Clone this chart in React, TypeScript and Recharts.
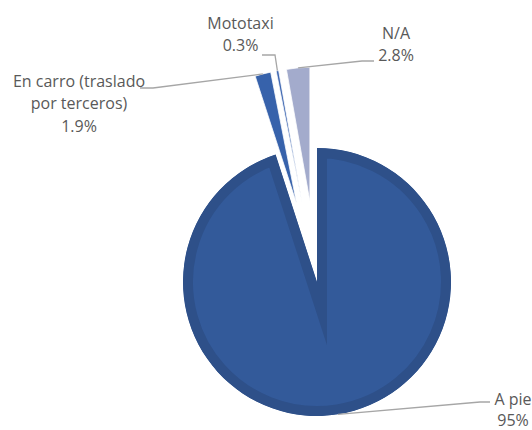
import { PieChart, Pie, Sector, Cell } from "recharts";

// values (share of trips, %)
const categories = ["A pie", "En carro (traslado por terceros)", "Mototaxi", "N/A"];
const shares = [95, 1.9, 0.3, 2.8];

const data = categories.map((name, i) => ({ name, value: shares[i] }));

const fills = ["#335A9A", "#3762AB", "#4169B2", "#A3ABCC"];
const BORDER = "#2E5089";
const EXPLODE = 81;
const RAD = Math.PI / 180;
const FONT = "'Open Sans', sans-serif";
const TEXT = "#595959";

// label placement: text lines, text centre, first baseline, line gap, leader elbow + end
const labelLayout: Record<string, any> = {
  "A pie": { lines: ["A pie"], x: 513, y: 405, gap: 21, elbow: [480, 402], end: [490, 402] },
  "En carro (traslado por terceros)": {
    lines: ["En carro (traslado", "por terceros)"],
    x: 79,
    y: 86.5,
    gap: 22.5,
    elbow: [153, 88],
    end: [140, 88],
  },
  Mototaxi: { lines: ["Mototaxi"], x: 240.5, y: 28.5, gap: 22.5, elbow: [275, 55], end: [262, 55] },
  "N/A": { lines: ["N/A"], x: 396, y: 38.5, gap: 22.5, elbow: [362, 61], end: [374, 61] },
};

const offsetOf = (name: string) => (name === "A pie" ? 0 : EXPLODE);

function Slice(props: any) {
  const { cx, cy, outerRadius, startAngle, endAngle, fill, name } = props;
  const mid = (startAngle + endAngle) / 2;
  const off = offsetOf(name);
  const dx = off * Math.cos(-mid * RAD);
  const dy = off * Math.sin(-mid * RAD);
  const base = { cx, cy, innerRadius: 0, outerRadius, startAngle, endAngle };

  if (name === "A pie") {
    // inner border: stroke twice the width, clipped to the slice itself
    return (
      <g>
        <defs>
          <clipPath id="clip-apie">
            <Sector {...base} />
          </clipPath>
        </defs>
        <g clipPath="url(#clip-apie)">
          <Sector
            {...base}
            fill={fill}
            stroke={BORDER}
            strokeWidth={20}
            strokeLinejoin="miter"
            strokeMiterlimit={12}
          />
        </g>
      </g>
    );
  }
  return (
    <g transform={`translate(${dx},${dy})`}>
      <Sector {...base} fill={fill} stroke="#fff" strokeWidth={0.75} />
    </g>
  );
}

function renderLabel(props: any) {
  const { cx, cy, outerRadius, midAngle, name, value } = props;
  const spot = labelLayout[name];
  if (!spot) return null;
  const r = outerRadius + offsetOf(name);
  const sx = cx + r * Math.cos(-midAngle * RAD);
  const sy = cy + r * Math.sin(-midAngle * RAD);
  const lines = [...spot.lines, `${value}%`];
  return (
    <g>
      <polyline
        points={`${sx},${sy} ${spot.elbow[0]},${spot.elbow[1]} ${spot.end[0]},${spot.end[1]}`}
        fill="none"
        stroke="#a6a6a6"
        strokeWidth={1.3}
      />
      {lines.map((t, i) => (
        <text
          key={i}
          x={spot.x}
          y={spot.y + i * spot.gap}
          textAnchor="middle"
          fontFamily={FONT}
          fontSize={16}
          fill={TEXT}
        >
          {t}
        </text>
      ))}
    </g>
  );
}

export default function App() {
  return (
    <div style={{ position: "absolute", left: 0, top: 0, background: "#fff" }}>
      <PieChart width={532} height={430} margin={{ top: 0, right: 0, bottom: 0, left: 0 }}>
        <Pie
          data={data}
          dataKey="value"
          nameKey="name"
          cx={317}
          cy={282}
          outerRadius={134}
          startAngle={90}
          endAngle={-270}
          shape={Slice}
          label={renderLabel}
          labelLine={false}
          isAnimationActive={false}
        >
          {data.map((d, i) => (
            <Cell key={d.name} fill={fills[i]} />
          ))}
        </Pie>
      </PieChart>
    </div>
  );
}
